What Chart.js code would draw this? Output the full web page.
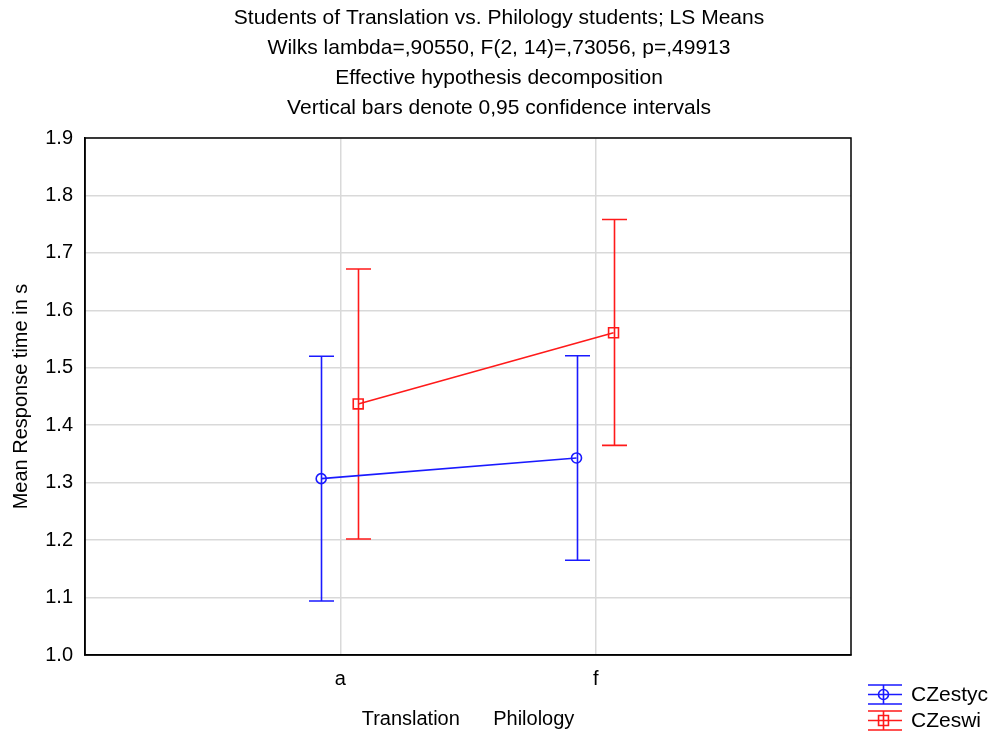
<!DOCTYPE html>
<html lang="en">
    <head>
        <title> LS Means </title>
        <style>
            html, body { margin: 0; padding: 0; background: #fff; }
            #wrap { width: 992px; height: 731px; }
        </style>
        <script src="https://cdn.jsdelivr.net/npm/chart.js@4.4.1/dist/chart.umd.min.js"></script>
    </head>

    <body>
        <div id="wrap"><canvas id="myChart" width="992" height="731"></canvas></div>

        <script>

            // groups on the x axis
            const groups = ['a', 'f'];

            // CZestyc: means and 0,95 confidence limits
            const czestycMean = [1.307, 1.343];
            const czestycLow = [1.094, 1.165];
            const czestycHigh = [1.520, 1.521];

            // CZeswi: means and 0,95 confidence limits
            const czeswiMean = [1.437, 1.561];
            const czeswiLow = [1.202, 1.365];
            const czeswiHigh = [1.672, 1.758];

            const yTicks = [1.0, 1.1, 1.2, 1.3, 1.4, 1.5, 1.6, 1.7, 1.8, 1.9];

            const titleLines = [
                'Students of Translation vs. Philology students; LS Means',
                'Wilks lambda=,90550, F(2, 14)=,73056, p=,49913',
                'Effective hypothesis decomposition',
                'Vertical bars denote 0,95 confidence intervals'
            ];

            const FONT = 'Arial, "Liberation Sans", sans-serif';
            const FS = 20;
            const BLUE = '#1a1aff';
            const RED = '#ff1a1a';

            // small dodge so the two series don't overlap
            const shift = { CZestyc: -0.075, CZeswi: 0.07 };

            const toPoints = (means, dx) => means.map((m, i) => ({ x: i + 1 + dx, y: m }));

            const series = [
                { label: 'CZestyc', mean: czestycMean, low: czestycLow, high: czestycHigh, color: BLUE, style: 'circle', radius: 5 },
                { label: 'CZeswi', mean: czeswiMean, low: czeswiLow, high: czeswiHigh, color: RED, style: 'rect', radius: 7 }
            ];

            // confidence interval whiskers, drawn under the markers
            const errorBars = {
                id: 'errorBars',
                beforeDatasetsDraw (chart) {
                    const { ctx, scales: { x, y } } = chart;
                    ctx.save();
                    ctx.lineWidth = 1.6;
                    series.forEach(s => {
                        ctx.strokeStyle = s.color;
                        s.mean.forEach((m, i) => {
                            const px = Math.round(x.getPixelForValue(i + 1 + shift[s.label])) + 0.5;
                            const top = y.getPixelForValue(s.high[i]);
                            const bot = y.getPixelForValue(s.low[i]);
                            ctx.beginPath();
                            ctx.moveTo(px, top); ctx.lineTo(px, bot);
                            ctx.moveTo(px - 12.5, top); ctx.lineTo(px + 12.5, top);
                            ctx.moveTo(px - 12.5, bot); ctx.lineTo(px + 12.5, bot);
                            ctx.stroke();
                        });
                    });
                    ctx.restore();
                }
            };

            // plot frame, title block and the legend in the corner
            const frame = {
                id: 'frame',
                afterDraw (chart) {
                    const { ctx, chartArea: a } = chart;
                    ctx.save();
                    ctx.strokeStyle = '#000';
                    ctx.lineWidth = 1.5;
                    ctx.strokeRect(a.left, a.top, a.right - a.left, a.bottom - a.top);

                    ctx.fillStyle = '#000';
                    ctx.font = '21px ' + FONT;
                    ctx.textAlign = 'center';
                    ctx.textBaseline = 'middle';
                    titleLines.forEach((t, i) => ctx.fillText(t, 499, 18 + i * 30));

                    ctx.lineWidth = 1.6;
                    ctx.textAlign = 'left';
                    series.forEach((s, i) => {
                        const yc = 694.5 + i * 26;
                        const xl = 868, xr = 902, xm = 883.5;
                        ctx.strokeStyle = s.color;
                        ctx.beginPath();
                        ctx.moveTo(xl, yc - 9.5); ctx.lineTo(xr, yc - 9.5);
                        ctx.moveTo(xl, yc); ctx.lineTo(xr, yc);
                        ctx.moveTo(xl, yc + 9.5); ctx.lineTo(xr, yc + 9.5);
                        ctx.moveTo(xm, yc - 9.5); ctx.lineTo(xm, yc + 9.5);
                        ctx.stroke();
                        ctx.fillStyle = 'rgba(0,0,0,0)';
                        Chart.helpers.drawPoint(ctx, {
                            pointStyle: s.style, radius: s.radius, borderWidth: 1.6
                        }, xm, yc);
                        ctx.fillStyle = '#000';
                        ctx.fillText(s.label, 911, yc + 1);
                    });
                    ctx.restore();
                }
            };

            const ctx = document.getElementById('myChart').getContext('2d');
            const myChart = new Chart(ctx, {
                type: 'line',
                data: {
                    datasets: series.map(s => ({
                        label: s.label,
                        data: toPoints(s.mean, shift[s.label]),
                        borderColor: s.color,
                        backgroundColor: 'rgba(0,0,0,0)',
                        borderWidth: 1.6,
                        pointStyle: s.style,
                        pointRadius: s.radius,
                        pointBorderWidth: 1.6,
                        pointBackgroundColor: 'rgba(0,0,0,0)',
                        pointBorderColor: s.color,
                        tension: 0
                    }))
                },
                options: {
                    responsive: false,
                    animation: false,
                    devicePixelRatio: 1,
                    layout: { padding: { top: 138, right: 141, bottom: 0, left: 5 } },
                    plugins: {
                        legend: { display: false },
                        tooltip: { enabled: false },
                        title: { display: false }
                    },
                    scales: {
                        x: {
                            type: 'linear',
                            min: 0,
                            max: 3,
                            afterBuildTicks: axis => { axis.ticks = groups.map((g, i) => ({ value: i + 1 })); },
                            afterFit: axis => { axis.height = 76; },
                            ticks: {
                                callback: v => groups[v - 1],
                                color: '#000',
                                font: { family: FONT, size: FS },
                                padding: 12,
                                maxRotation: 0
                            },
                            grid: { color: '#d9d9d9', lineWidth: 1.5, drawTicks: false },
                            border: { color: '#000', width: 1.5 },
                            title: {
                                display: true,
                                text: 'Translation      Philology',
                                color: '#000',
                                font: { family: FONT, size: FS },
                                padding: { top: 0, bottom: 0 }
                            }
                        },
                        y: {
                            min: 1.0,
                            max: 1.9,
                            afterBuildTicks: axis => { axis.ticks = yTicks.map(v => ({ value: v })); },
                            afterFit: axis => { axis.width = 80; },
                            ticks: {
                                callback: v => v.toFixed(1),
                                color: '#000',
                                font: { family: FONT, size: FS },
                                padding: 12
                            },
                            grid: { color: '#d9d9d9', lineWidth: 1.5, drawTicks: false },
                            border: { color: '#000', width: 1.5 },
                            title: {
                                display: true,
                                text: 'Mean Response time in s',
                                color: '#000',
                                font: { family: FONT, size: FS },
                                padding: { bottom: 0 }
                            }
                        }
                    }
                },
                plugins: [errorBars, frame]
            });

        </script>
    </body>
</html>
